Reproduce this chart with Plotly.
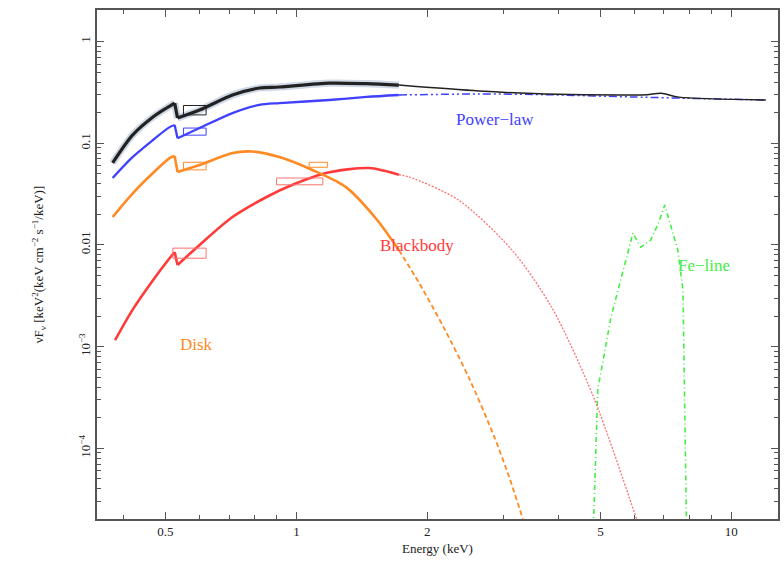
import plotly.graph_objects as go
import math

# ---------------- data ----------------
tot_E = [0.378, 0.42, 0.468, 0.503, 0.525, 0.533, 0.599, 0.713, 0.822, 0.914, 1.19, 1.45, 1.72,
         2.63, 3.74, 5.9, 6.4, 6.9, 7.57, 12.0]
tot_F = [0.064, 0.12, 0.181, 0.222, 0.248, 0.177, 0.212, 0.298, 0.349, 0.357, 0.39, 0.385, 0.373,
         0.326, 0.305, 0.298, 0.300, 0.31, 0.284, 0.266]

pl_E = [0.378, 0.42, 0.468, 0.511, 0.525, 0.533, 0.599, 0.713, 0.822, 0.914, 1.19, 1.45, 1.72,
        2.63, 3.74, 5.9, 12.0]
pl_F = [0.0455, 0.073, 0.1076, 0.144, 0.151, 0.112, 0.141, 0.198, 0.238, 0.248, 0.266, 0.285, 0.298,
        0.305, 0.300, 0.285, 0.266]

disk_E = [0.378, 0.42, 0.468, 0.511, 0.525, 0.533, 0.599, 0.713, 0.79, 0.914, 1.088, 1.30, 1.53,
          1.72, 1.915, 2.185, 2.494, 2.846, 3.08, 3.316, 3.4]
disk_F = [0.0188, 0.032, 0.051, 0.0715, 0.0748, 0.052, 0.061, 0.080, 0.083, 0.073, 0.0545, 0.037,
          0.0178, 0.0089, 4.22e-3, 1.52e-3, 4.9e-4, 1.32e-4, 5.3e-5, 2.0e-5, 1.3e-5]

bb_E = [0.383, 0.42, 0.468, 0.511, 0.525, 0.533, 0.599, 0.713, 0.854, 0.98, 1.17, 1.47, 1.72,
        1.82, 2.36, 3.13, 3.86, 4.82, 6.06, 6.2]
bb_F = [1.16e-3, 2.3e-3, 4.5e-3, 7.4e-3, 8.5e-3, 6.35e-3, 0.010, 0.0188, 0.0296, 0.039, 0.051,
        0.057, 0.049, 0.0465, 0.0276, 8.9e-3, 2.45e-3, 3.2e-4, 2.0e-5, 1.5e-5]

fe_E = [4.80, 4.93, 5.29, 5.81, 5.94, 6.19, 6.52, 6.8, 7.03, 7.53, 7.74, 7.90]
fe_F = [1.0e-5, 3.8e-4, 1.97e-3, 8.9e-3, 0.0131, 0.0095, 0.0111, 0.0164, 0.0247, 0.0089, 0.0036, 1.0e-5]

# rebinned data boxes: (E_lo, E_hi, F_lo, F_hi)
box_black = [(0.55, 0.62, 0.19, 0.235)]
box_blue = [(0.55, 0.62, 0.12, 0.141)]
box_orange = [(0.55, 0.62, 0.0547, 0.065), (1.07, 1.18, 0.058, 0.065)]
box_red = [(0.52, 0.62, 0.0074, 0.0093), (0.90, 1.15, 0.039, 0.0455)]

EDGE = 0.53      # absorption edge energy
DATA_MAX = 1.75  # upper energy of the data band

# ---------------- styles ----------------
C_BLACK = "#222222"
C_BLUE = "#4040ff"
C_ORANGE = "#ff8a24"
C_RED = "#ff3a3a"
C_RED_THIN = "#ff7070"
C_GREEN = "#44ee44"
FONT = "Liberation Serif"

fig = go.Figure()


def add(E, F, color, width, dash="solid", shape="spline"):
    fig.add_trace(go.Scatter(x=E, y=F, mode="lines",
                             line=dict(color=color, width=width, dash=dash, shape=shape, smoothing=0.8),
                             showlegend=False, hoverinfo="skip"))


def pieces(E, F):
    """split a curve into pre-edge, edge jump, post-edge data part and model tail"""
    pre = [(e, f) for e, f in zip(E, F) if e < EDGE]
    post = [(e, f) for e, f in zip(E, F) if EDGE <= e <= DATA_MAX]
    tail = [(e, f) for e, f in zip(E, F) if e >= DATA_MAX - 0.1]
    jump = [pre[-1], post[0]]
    u = lambda p: ([a for a, _ in p], [b for _, b in p])
    return u(pre), u(jump), u(post), u(tail)


def add_curve(E, F, color, band_w, tail_color, tail_w, tail_dash, halo=None):
    pre, jump, post, tail = pieces(E, F)
    add(*tail, tail_color, tail_w, dash=tail_dash)
    if halo:
        for seg, sh in ((pre, "spline"), (jump, "linear"), (post, "spline")):
            add(*seg, halo, band_w + 4, shape=sh)
    for seg, sh in ((pre, "spline"), (jump, "linear"), (post, "spline")):
        add(*seg, color, band_w, shape=sh)


def add_boxes(boxes, color):
    xs, ys = [], []
    for e0, e1, f0, f1 in boxes:
        xs += [e0, e1, e1, e0, e0, None]
        ys += [f0, f0, f1, f1, f0, None]
    fig.add_trace(go.Scatter(x=xs, y=ys, mode="lines", line=dict(color=color, width=1),
                             showlegend=False, hoverinfo="skip"))


# Fe line
add(fe_E, fe_F, C_GREEN, 1.6, dash="5px,3px,1px,3px", shape="linear")

# Blackbody
add_curve(bb_E, bb_F, C_RED, 2.6, C_RED_THIN, 1.3, "2px,1.5px")
add_boxes(box_red, C_RED_THIN)

# Disk
add_curve(disk_E, disk_F, C_ORANGE, 2.6, C_ORANGE, 1.8, "5px,3px")
add_boxes(box_orange, C_ORANGE)

# Power law
add_curve(pl_E, pl_F, C_BLUE, 2.3, C_BLUE, 1.5, "8px,3px,2px,3px,2px,3px")
add_boxes(box_blue, C_BLUE)

# Total (model line over full range + data band)
add_curve(tot_E, tot_F, C_BLACK, 3.2, C_BLACK, 1.5, "solid", halo="rgba(150,170,200,0.45)")
add_boxes(box_black, C_BLACK)

# ---------------- labels ----------------
labels = [
    ("Power\u2212law", 2.86, 10 ** -0.762, C_BLUE),
    ("Blackbody", 1.895, 10 ** -2.001, C_RED),
    ("Fe\u2212line", 8.67, 10 ** -2.207, C_GREEN),
    ("Disk", 0.59, 10 ** -2.984, C_ORANGE),
]
for txt, ex, fy, col in labels:
    fig.add_annotation(x=math.log10(ex), y=math.log10(fy), xref="x", yref="y", text=txt,
                       showarrow=False, font=dict(family=FONT, size=17, color=col),
                       xanchor="center", yanchor="middle")

# ---------------- axes ----------------
AX = "#555555"
x_minor = [0.4, 0.6, 0.7, 0.8, 0.9, 3, 4, 6, 7, 8, 9]
y_minor = [k * 10 ** d for d in range(-5, 1) for k in range(2, 10) if 2e-5 <= k * 10 ** d <= 2.0]

fig.update_xaxes(type="log", range=[math.log10(0.348), math.log10(12.8)],
                 tickvals=[0.5, 1, 2, 5, 10], ticktext=["0.5", "1", "2", "5", "10"],
                 ticks="inside", ticklen=7, tickwidth=1, tickcolor=AX,
                 minor=dict(tickvals=x_minor, ticks="inside", ticklen=4, tickcolor=AX, tickwidth=1),
                 showline=True, linecolor=AX, linewidth=1.5, mirror="allticks",
                 showgrid=False, zeroline=False,
                 tickfont=dict(family=FONT, size=13, color="#222"),
                 title=dict(text="Energy (keV)", font=dict(family=FONT, size=13, color="#222"), standoff=6))

fig.update_yaxes(type="log", range=[-4.695, 0.31],
                 tickvals=[1, 0.1, 0.01, 1e-3, 1e-4],
                 ticktext=["1", "0.1", "0.01", "10<sup>\u22123</sup>", "10<sup>\u22124</sup>"],
                 tickangle=-90,
                 ticks="inside", ticklen=7, tickwidth=1, tickcolor=AX,
                 minor=dict(tickvals=y_minor, ticks="inside", ticklen=4, tickcolor=AX, tickwidth=1),
                 showline=True, linecolor=AX, linewidth=1.5, mirror="allticks",
                 showgrid=False, zeroline=False,
                 tickfont=dict(family=FONT, size=13, color="#222"),
                 title=dict(text="\u03bdF<sub>\u03bd</sub> [keV<sup>2</sup>(keV cm<sup>\u22122</sup> s<sup>\u22121</sup>/keV)]",
                            font=dict(family=FONT, size=13, color="#222"), standoff=30))

fig.update_layout(width=784, height=563, margin=dict(l=97, r=4, t=10, b=44),
                  paper_bgcolor="white", plot_bgcolor="white", showlegend=False)

fig.write_html("out.html")
